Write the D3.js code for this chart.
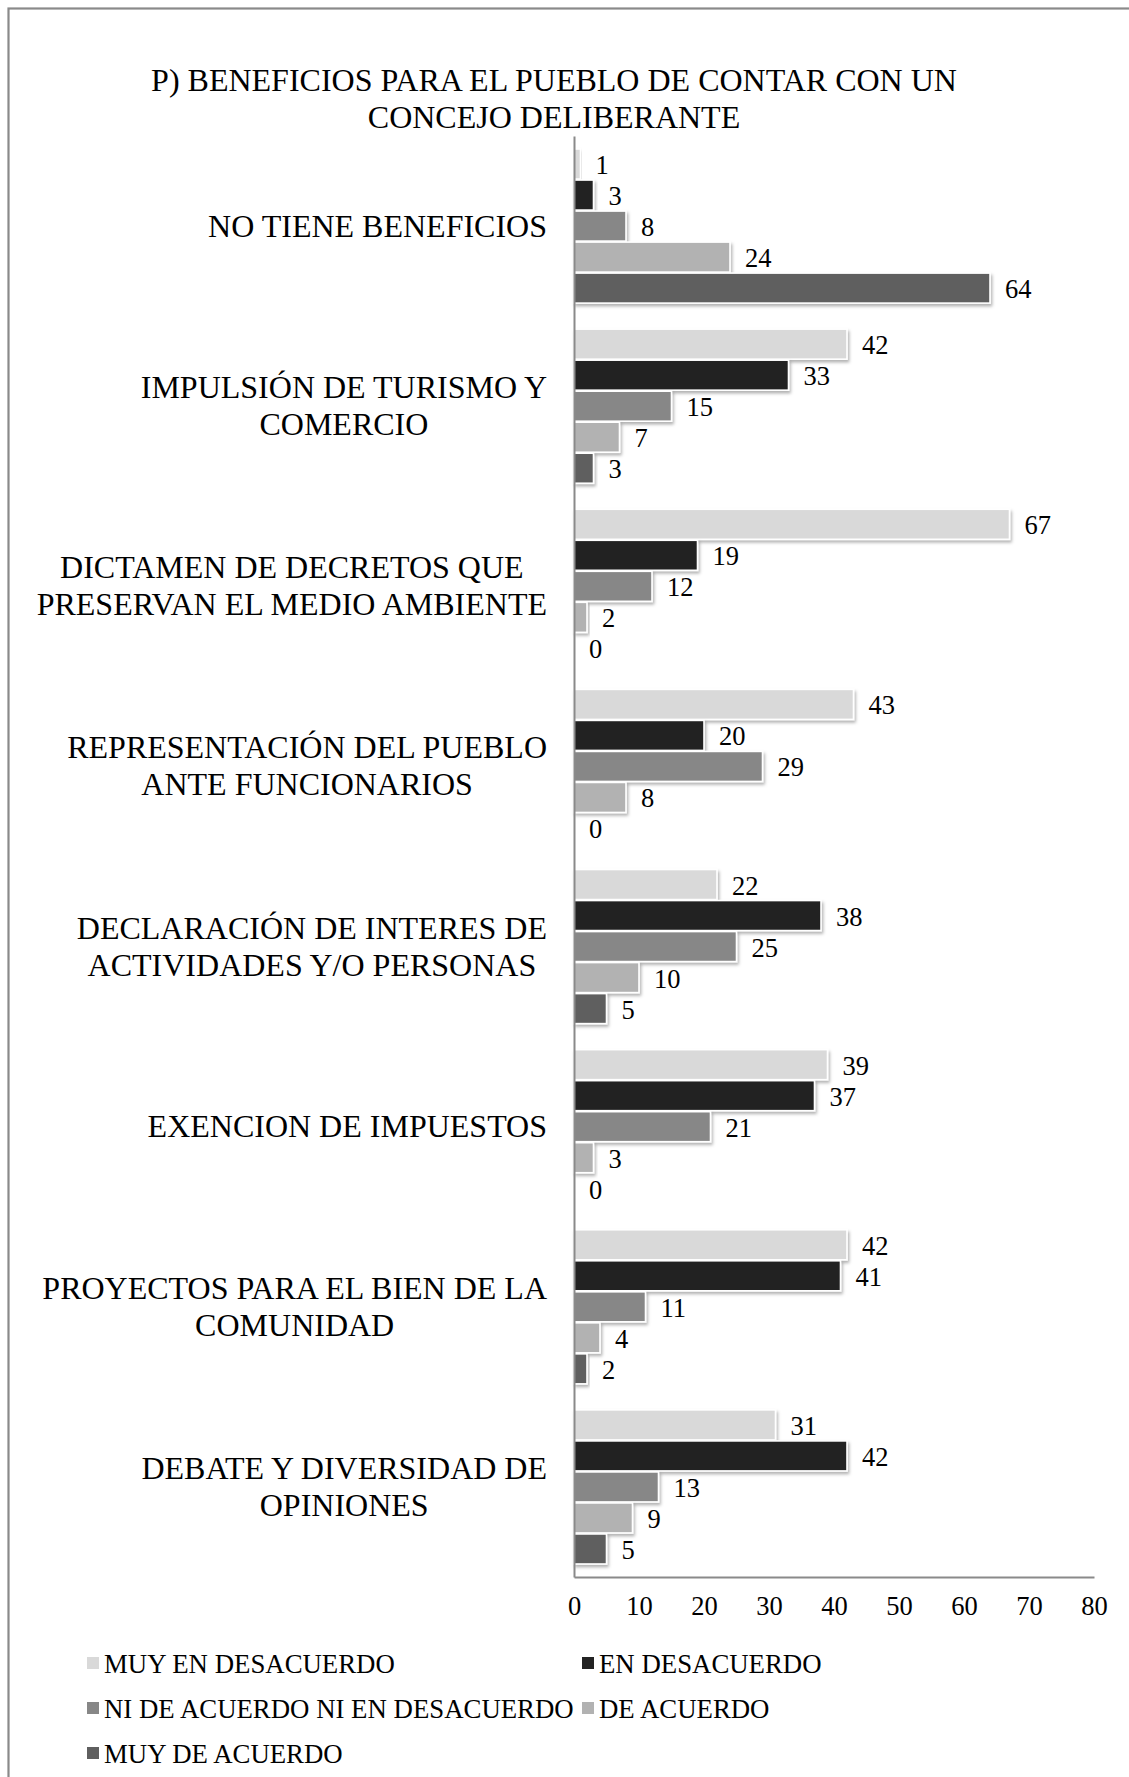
<!DOCTYPE html>
<html>
<head>
<meta charset="utf-8">
<script src="https://cdn.jsdelivr.net/npm/d3@7"></script>
<style>
  html, body { margin: 0; padding: 0; background: #fff; }
  svg { display: block; }
  text { font-family: "Liberation Serif", "Times New Roman", Times, serif; fill: #000; }
</style>
</head>
<body>
<script>
// ---- data ----
const titleLines = ["P) BENEFICIOS PARA EL PUEBLO DE CONTAR CON UN", "CONCEJO DELIBERANTE"];
const categories = [
  ["NO TIENE BENEFICIOS"],
  ["IMPULSIÓN DE TURISMO Y", "COMERCIO"],
  ["DICTAMEN DE DECRETOS QUE", "PRESERVAN EL MEDIO AMBIENTE"],
  ["REPRESENTACIÓN DEL PUEBLO", "ANTE FUNCIONARIOS"],
  ["DECLARACIÓN DE INTERES DE", "ACTIVIDADES Y/O PERSONAS"],
  ["EXENCION DE IMPUESTOS"],
  ["PROYECTOS PARA EL BIEN DE LA", "COMUNIDAD"],
  ["DEBATE Y DIVERSIDAD DE", "OPINIONES"]
];
const seriesNames = ["MUY EN DESACUERDO", "EN DESACUERDO", "NI DE ACUERDO NI EN DESACUERDO", "DE ACUERDO", "MUY DE ACUERDO"];
const seriesColors = ["#d9d9d9", "#232323", "#878787", "#b2b2b2", "#5f5f5f"];
const muyEnDesacuerdo = [1, 42, 67, 43, 22, 39, 42, 31];
const enDesacuerdo    = [3, 33, 19, 20, 38, 37, 41, 42];
const niNi            = [8, 15, 12, 29, 25, 21, 11, 13];
const deAcuerdo       = [24, 7, 2, 8, 10, 3, 4, 9];
const muyDeAcuerdo    = [64, 3, 0, 0, 5, 0, 2, 5];
const seriesValues = [muyEnDesacuerdo, enDesacuerdo, niNi, deAcuerdo, muyDeAcuerdo];
const xTicks = [0, 10, 20, 30, 40, 50, 60, 70, 80];

// ---- layout ----
const W = 1129, H = 1777;
const plot = { left: 574, right: 1094, top: 136, bottom: 1577 };

const svg = d3.select("body").append("svg").attr("width", W).attr("height", H);

const defs = svg.append("defs");
const f = defs.append("filter").attr("id", "shadow")
  .attr("x", "-10%").attr("y", "-20%").attr("width", "130%").attr("height", "160%");
f.append("feDropShadow").attr("dx", 1.5).attr("dy", 2.5).attr("stdDeviation", 1.8)
  .attr("flood-color", "#000").attr("flood-opacity", 0.3);

svg.append("rect").attr("width", W).attr("height", H).attr("fill", "#fff");
// outer border (right/bottom off-canvas)
svg.append("rect").attr("x", 8.5).attr("y", 8.5).attr("width", W + 20).attr("height", H + 20)
  .attr("fill", "none").attr("stroke", "#8a8a8a").attr("stroke-width", 2.2);

// title
svg.append("g").selectAll("text").data(titleLines).join("text")
  .attr("x", 554).attr("y", (d, i) => 91 + i * 37)
  .attr("text-anchor", "middle").style("font-size", "32px").text(d => d);

const x = d3.scaleLinear().domain([0, 80]).range([plot.left, plot.right]);
const y = d3.scaleBand().domain(d3.range(categories.length))
  .range([plot.top, plot.bottom]).paddingInner(0.139).paddingOuter(0.0695);
const ys = d3.scaleBand().domain(d3.range(seriesNames.length)).range([0, y.bandwidth()]);

// bars
const barsG = svg.append("g");
categories.forEach((c, ci) => {
  const g = barsG.append("g").attr("transform", `translate(0,${y(ci)})`);
  seriesValues.forEach((vals, si) => {
    const v = vals[ci];
    if (v > 0) {
      g.append("rect")
        .attr("x", x(0)).attr("y", ys(si) + 0.5)
        .attr("width", x(v) - x(0)).attr("height", ys.bandwidth() - 1)
        .attr("fill", seriesColors[si])
        .attr("stroke", "#fff").attr("stroke-width", 1.6)
        .attr("filter", "url(#shadow)");
    }
    g.append("text")
      .attr("x", x(v) + 15).attr("y", ys(si) + ys.bandwidth() / 2 + 10)
      .style("font-size", "26.5px").text(v);
  });
});

// category labels: lines centered with each other, block right-aligned
const labelRight = 547;
const catG = svg.append("g");
categories.forEach((lines, ci) => {
  const cy = y(ci) + y.bandwidth() / 2;
  const n = lines.length;
  const texts = lines.map((ln, li) => catG.append("text")
      .attr("y", cy + (li - (n - 1) / 2) * 37 + 10.5)
      .attr("text-anchor", "middle").style("font-size", "32px").text(ln));
  const maxW = d3.max(texts, t => t.node().getComputedTextLength());
  texts.forEach(t => t.attr("x", labelRight - maxW / 2));
});

// axes
const xAxis = d3.axisBottom(x).tickValues(xTicks).tickSize(0).tickPadding(19);
const ax = svg.append("g").attr("transform", `translate(0,${plot.bottom})`).call(xAxis);
ax.select(".domain").attr("stroke", "#8a8a8a").attr("stroke-width", 2);
ax.selectAll(".tick text").style("font-size", "26.5px")
  .style("font-family", "'Liberation Serif', 'Times New Roman', serif").attr("fill", "#000");

const yAxis = d3.axisLeft(y).tickSize(0).tickFormat("");
const ay = svg.append("g").attr("transform", `translate(${plot.left},0)`).call(yAxis);
ay.select(".domain").attr("stroke", "#8a8a8a").attr("stroke-width", 2);

// legend
const legendPos = [[87, 1663], [582, 1663], [87, 1708], [582, 1708], [87, 1753]];
const lg = svg.append("g");
seriesNames.forEach((name, i) => {
  const [lx, ly] = legendPos[i];
  lg.append("rect").attr("x", lx).attr("y", ly - 6).attr("width", 12).attr("height", 12)
    .attr("fill", seriesColors[i]);
  lg.append("text").attr("x", lx + 17).attr("y", ly + 9.5)
    .style("font-size", "26.8px").text(name);
});
</script>
</body>
</html>
